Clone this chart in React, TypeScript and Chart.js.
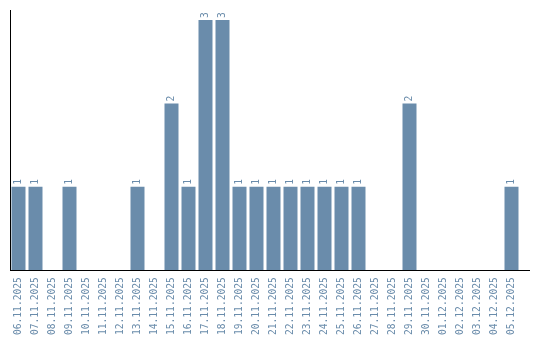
import React, { useEffect, useRef } from "react";
import { Chart, registerables } from "chart.js";

Chart.register(...registerables);

const categories = [
  "06.11.2025", "07.11.2025", "08.11.2025", "09.11.2025", "10.11.2025",
  "11.11.2025", "12.11.2025", "13.11.2025", "14.11.2025", "15.11.2025",
  "16.11.2025", "17.11.2025", "18.11.2025", "19.11.2025", "20.11.2025",
  "21.11.2025", "22.11.2025", "23.11.2025", "24.11.2025", "25.11.2025",
  "26.11.2025", "27.11.2025", "28.11.2025", "29.11.2025", "30.11.2025",
  "01.12.2025", "02.12.2025", "03.12.2025", "04.12.2025", "05.12.2025",
];

const counts = [
  1, 1, 0, 1, 0,
  0, 0, 1, 0, 2,
  1, 3, 3, 1, 1,
  1, 1, 1, 1, 1,
  1, 0, 0, 2, 0,
  0, 0, 0, 0, 1,
];

const BAR = "#6a8cab";
const FONT = "'DejaVu Sans Mono', monospace";

const valueLabels = {
  id: "valueLabels",
  afterDatasetsDraw(chart: any) {
    const ctx = chart.ctx;
    const meta = chart.getDatasetMeta(0);
    ctx.save();
    ctx.fillStyle = BAR;
    ctx.font = `9.6px ${FONT}`;
    ctx.textAlign = "left";
    ctx.textBaseline = "middle";
    meta.data.forEach((el: any, i: number) => {
      const v = counts[i];
      if (!v) return;
      ctx.save();
      ctx.translate(el.x, el.y - 2);
      ctx.rotate(-Math.PI / 2);
      ctx.fillText(String(v), 0, 0);
      ctx.restore();
    });
    ctx.restore();
  },
};

// extends the x axis baseline to the right edge like the reference
const axisExtend = {
  id: "axisExtend",
  afterDraw(chart: any) {
    const { ctx, chartArea } = chart;
    const y = Math.round(chartArea.bottom - 0.5) + 0.5;
    ctx.save();
    ctx.strokeStyle = "#000";
    ctx.lineWidth = 1;
    ctx.beginPath();
    ctx.moveTo(chartArea.left, y);
    ctx.lineTo(530, y);
    ctx.stroke();
    ctx.restore();
  },
};

export default function App() {
  const ref = useRef<HTMLCanvasElement>(null);
  useEffect(() => {
    if (!ref.current) return;
    const chart = new Chart(ref.current, {
      type: "bar",
      data: {
        labels: categories,
        datasets: [
          {
            data: counts,
            backgroundColor: BAR,
            barPercentage: 0.8235,
            categoryPercentage: 1,
          },
        ],
      },
      options: {
        animation: false,
        responsive: false,
        maintainAspectRatio: false,
        layout: { padding: { left: 10, top: 10, right: 20, bottom: -2 } },
        plugins: { legend: { display: false }, tooltip: { enabled: false } },
        scales: {
          x: {
            grid: { display: false, drawTicks: false },
            border: { display: true, color: "#000", width: 1 },
            ticks: {
              color: BAR,
              font: { family: FONT, size: 9.6 },
              maxRotation: 90,
              minRotation: 90,
              autoSkip: false,
              padding: 7,
            },
          },
          y: {
            min: 0,
            max: 3.12,
            grid: { display: false, drawTicks: false },
            border: { display: true, color: "#000", width: 1 },
            ticks: { display: false },
          },
        },
      },
      plugins: [valueLabels, axisExtend],
    });
    return () => chart.destroy();
  }, []);
  return (
    <div style={{ position: "fixed", left: 0, top: 0, width: 540, height: 340 }}>
      <canvas ref={ref} width={540} height={340} style={{ width: 540, height: 340 }} />
    </div>
  );
}
